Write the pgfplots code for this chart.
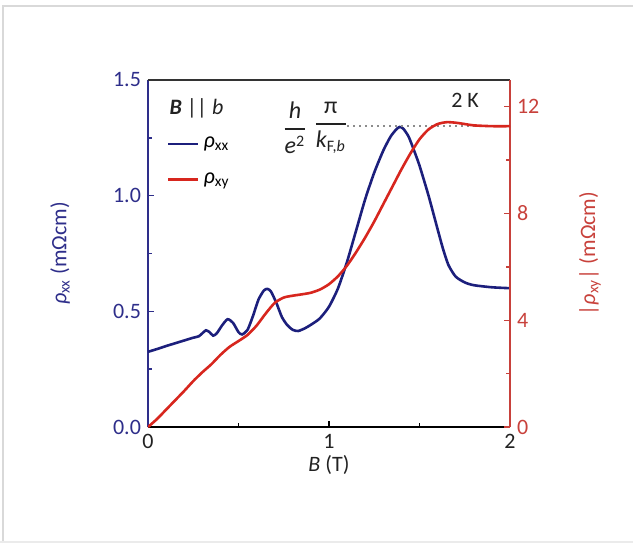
\documentclass[border=0pt]{standalone}
\usepackage{fontspec}
\setmainfont{Carlito}
\usepackage{amsmath}
\usepackage{pgfplots}
\pgfplotsset{compat=1.18}

\definecolor{navyax}{HTML}{2E2E8A}
\definecolor{navyln}{HTML}{1C1F7C}
\definecolor{redax}{HTML}{C8413B}
\definecolor{redln}{HTML}{D7261E}
\definecolor{txtgray}{HTML}{222222}

\pgfplotstableread{
B rxx
0    0.325
0.05 0.337
0.10 0.350
0.15 0.362
0.20 0.374
0.25 0.386
0.28 0.392
0.30 0.405
0.32 0.418
0.34 0.410
0.36 0.395
0.38 0.405
0.41 0.440
0.44 0.466
0.47 0.450
0.50 0.410
0.52 0.400
0.55 0.420
0.58 0.480
0.61 0.550
0.64 0.590
0.66 0.597
0.68 0.585
0.71 0.535
0.74 0.475
0.77 0.440
0.80 0.420
0.83 0.415
0.87 0.428
0.91 0.447
0.95 0.470
1.00 0.520
1.05 0.600
1.10 0.715
1.15 0.850
1.20 0.985
1.25 1.100
1.30 1.195
1.34 1.255
1.37 1.285
1.39 1.297
1.41 1.290
1.44 1.255
1.47 1.195
1.50 1.130
1.55 1.000
1.60 0.855
1.63 0.770
1.66 0.700
1.70 0.650
1.75 0.625
1.80 0.613
1.90 0.604
2.00 0.600
}\rhoxx

\pgfplotstableread{
B rxy
0    0
0.05 0.30
0.10 0.65
0.15 1.00
0.20 1.35
0.25 1.72
0.30 2.05
0.35 2.35
0.40 2.70
0.45 3.00
0.50 3.22
0.55 3.45
0.60 3.80
0.65 4.25
0.70 4.65
0.75 4.85
0.80 4.92
0.85 4.97
0.90 5.03
0.95 5.15
1.00 5.35
1.05 5.65
1.10 6.05
1.15 6.55
1.20 7.10
1.25 7.70
1.30 8.35
1.35 9.00
1.40 9.65
1.45 10.25
1.50 10.78
1.55 11.15
1.60 11.35
1.65 11.42
1.70 11.40
1.75 11.35
1.80 11.30
1.90 11.27
2.00 11.27
}\rhoxy

\begin{document}
\begin{tikzpicture}
\useasboundingbox (0,0) rectangle (316.5pt,271.5pt);
% light frame of the figure panel
\draw[black!15, line width=1pt] (1.25pt,0pt) -- (1.25pt,268.75pt) -- (316.5pt,268.75pt);
\draw[black!8, line width=0.8pt] (0,0.4pt) -- (316.5pt,0.4pt);

\pgfplotsset{
  every axis/.append style={
    scale only axis, width=181pt, height=173.5pt,
    at={(74pt,58pt)}, anchor=south west,
    xmin=0, xmax=2,
    tick align=inside,
    major tick length=3pt, minor tick length=2pt,
    tick style={line width=0.7pt},
    font=\fontsize{11}{13}\selectfont,
    /pgf/number format/assume math mode=true,
  },
}

\begin{axis}[
  axis x line*=bottom,
  axis y line*=left,
  x axis line style={black, line width=0.8pt, -},
  y axis line style={navyax, line width=0.8pt, -},
  ymin=0, ymax=1.5,
  xtick={0,1,2}, minor xtick={0.5,1.5},
  ytick={0,0.5,1,1.5}, minor ytick={0.25,0.75,1.25},
  xtick style={black}, ytick style={navyax},
  yticklabel style={navyax, /pgf/number format/fixed, /pgf/number format/zerofill, /pgf/number format/precision=1},
  xticklabel style={txtgray},
  xlabel={\textit{B} (T)},
  xlabel style={txtgray, at={(axis description cs:0.5,-0.11)}, anchor=center},
  ylabel={\textit{ρ}\textsubscript{xx} (mΩcm)},
  ylabel style={navyax, at={(axis description cs:-0.243,0.5)}, anchor=center, rotate=0},
  legend style={draw=none, fill=none, at={(axis description cs:0.035,0.86)}, anchor=north west,
    font=\fontsize{11}{13}\selectfont, row sep=7pt},
  legend cell align=left,
  legend image code/.code={\draw[#1] (0pt,0pt) -- (15pt,0pt);},
  clip=false,
]
\addplot[navyln, line width=1.3pt, smooth, tension=0.4] table[x=B, y=rxx] {\rhoxx};
\addlegendentry{\textit{ρ}\textsubscript{xx}}
\addlegendimage{redln, line width=1.3pt}
\addlegendentry{\textit{ρ}\textsubscript{xy}}
\draw[black!80, line width=0.8pt] (rel axis cs:0,1) -- (rel axis cs:1,1);
\node[anchor=west, txtgray, font=\fontsize{11}{13}\selectfont] at (rel axis cs:0.04,0.919) {\textbf{\textit{B}} || \textit{b}};
\node[txtgray, font=\fontsize{12}{14}\selectfont] at (rel axis cs:0.406,0.862) {$\genfrac{}{}{1pt}{0}{\textit{h}\vphantom{\text{π}}}{\textit{e}^{\text{2}}}$};
\node[txtgray, font=\fontsize{12}{14}\selectfont] at (rel axis cs:0.505,0.862) {$\genfrac{}{}{1pt}{0}{\text{π}}{\textit{k}_{\text{F,}\textit{b}}}$};
\node[txtgray, font=\fontsize{11}{13}\selectfont] at (rel axis cs:0.876,0.942) {2 K};
\end{axis}

\begin{axis}[
  axis x line=none,
  axis y line*=right,
  y axis line style={redax, line width=0.8pt, -},
  ymin=0, ymax=13,
  ytick={0,4,8,12}, minor ytick={2,6,10},
  ytick style={redax},
  yticklabel style={redax},
  ylabel={|\textit{ρ}\textsubscript{xy}| (mΩcm)},
  ylabel style={redax, at={(axis description cs:1.221,0.5)}, anchor=center, rotate=0},
]
\addplot[black!45, line width=1pt, dotted] coordinates {(1.10,11.27) (2.0,11.27)};
\addplot[redln, line width=1.3pt, smooth, tension=0.4] table[x=B, y=rxy] {\rhoxy};
\end{axis}
\end{tikzpicture}
\end{document}
